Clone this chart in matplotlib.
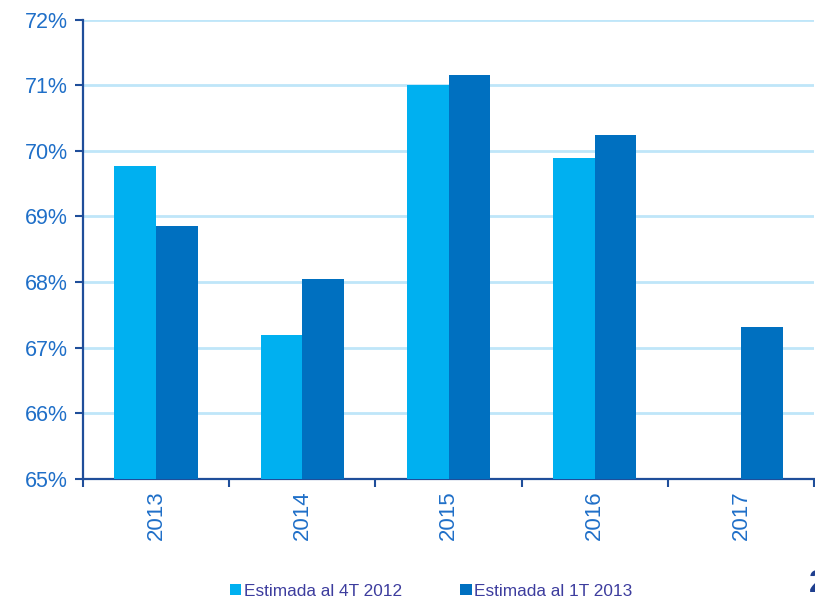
import numpy as np
import matplotlib
matplotlib.use("Agg")
import matplotlib.pyplot as plt
from matplotlib.ticker import FuncFormatter

plt.rcParams['font.family'] = ['Liberation Sans', 'DejaVu Sans']

years = ["2013", "2014", "2015", "2016", "2017"]
est_4t2012 = [69.77, 67.20, 71.00, 69.89, np.nan]
est_1t2013 = [68.85, 68.05, 71.16, 70.24, 67.31]
series_labels = ["Estimada al 4T 2012", "Estimada al 1T 2013"]

light = "#00B0F0"
dark = "#0070C0"
tick_color = "#1F6FC8"
spine_color = "#1F4E9A"
grid_color = "#BFE6F9"
legend_text = "#3D3D9E"

fig = plt.figure(figsize=(8.15, 5.99), dpi=100)
ax = fig.add_axes([83 / 815, 1 - 479 / 599, (814 - 83) / 815, (479 - 19.5) / 599])

x = np.arange(len(years))
w = 0.285
ax.bar(x - w / 2, est_4t2012, width=w, color=light, label=series_labels[0], zorder=3)
ax.bar(x + w / 2, est_1t2013, width=w, color=dark, label=series_labels[1], zorder=3)

ax.set_ylim(65, 72)
ax.set_xlim(-0.5, len(years) - 0.5)
ax.set_yticks(range(65, 73))
ax.yaxis.set_major_formatter(FuncFormatter(lambda v, p: f"{v:.0f}%"))
ax.yaxis.grid(True, color=grid_color, linewidth=2, zorder=0)
ax.set_axisbelow(True)

ax.set_xticks(x)
ax.set_xticklabels(years, rotation=90)
ax.set_xticks(np.arange(-0.5, len(years)), minor=True)
ax.tick_params(axis="x", which="major", length=0, pad=8, labelsize=16, labelcolor=tick_color)
ax.tick_params(axis="x", which="minor", length=6, width=1.5, color=spine_color, direction="out")
ax.tick_params(axis="y", length=6, width=1.5, color=spine_color, pad=5, labelsize=15.5,
               labelcolor=tick_color)

for s in ["top", "right"]:
    ax.spines[s].set_visible(False)
for s in ["left", "bottom"]:
    ax.spines[s].set_color(spine_color)
    ax.spines[s].set_linewidth(1.6)

fig.legend(loc="center", bbox_to_anchor=(0.529, 1 - 591 / 599), ncol=2, frameon=False,
           fontsize=12.4, handlelength=0.65, handleheight=0.65, handletextpad=0.15,
           columnspacing=3.4, labelcolor=legend_text)

fig.text(809 / 815, 1 - 584 / 599, "2", fontsize=23, fontweight="bold", color="#1F3F8F",
         ha="left", va="center")

fig.savefig("out.png", dpi=100)
